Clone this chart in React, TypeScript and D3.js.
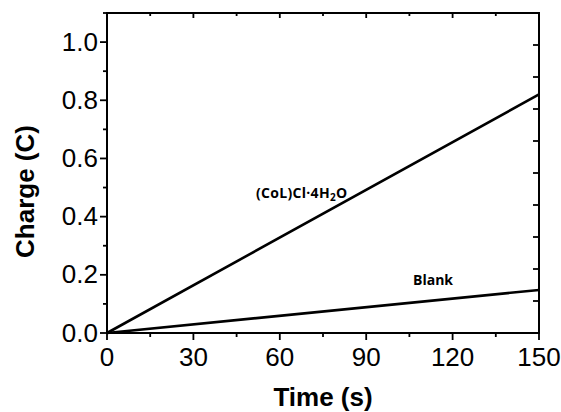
import React from "react";
import * as d3 from "d3";

const timeValues = [0, 150];
const complexCharge = [0, 0.82];
const blankCharge = [0, 0.148];
const xMajorTicks = [0, 30, 60, 90, 120, 150];
const xMinorTicks = [15, 45, 75, 105, 135];
const yMajorTicks = [0, 0.2, 0.4, 0.6, 0.8, 1.0];
const yMinorTicks = [0.1, 0.3, 0.5, 0.7, 0.9, 1.1];
const rightTicks = [0.1, 0.2, 0.3, 0.4, 0.5, 0.6, 0.7, 0.8, 0.9];
const seriesLabels = ["(CoL)Cl·4H₂O", "Blank"];

export default function App() {
  const W = 561, H = 412;
  const L = 107, R = 539, T = 13, B = 333;
  const x = d3.scaleLinear().domain([0, 150]).range([L, R]);
  const y = d3.scaleLinear().domain([0, 1.1]).range([B, T]);
  const yR = d3.scaleLinear().domain([0, 1.0]).range([B, T]);
  const line = d3.line<[number, number]>().x(d => x(d[0])).y(d => y(d[1]));
  const complexData = timeValues.map((t, i) => [t, complexCharge[i]] as [number, number]);
  const blankData = timeValues.map((t, i) => [t, blankCharge[i]] as [number, number]);
  const font = "Liberation Sans, Arial, sans-serif";
  const annFont = "Open Sans, Liberation Sans, sans-serif";
  return (
    <svg width={W} height={H} style={{ position: "absolute", left: 0, top: 0, background: "#fff" }}>
      <rect x={0} y={0} width={W} height={H} fill="#fff" />
      <path d={line(complexData) || ""} stroke="#000" strokeWidth={2.6} fill="none" />
      <path d={line(blankData) || ""} stroke="#000" strokeWidth={2.6} fill="none" />
      <rect x={L} y={T} width={R - L} height={B - T} fill="none" stroke="#000" strokeWidth={2} />
      {xMajorTicks.map(v => (
        <g key={"xm" + v}>
          <line x1={x(v)} x2={x(v)} y1={B} y2={B + 7} stroke="#000" strokeWidth={1.8} />
          <line x1={x(v)} x2={x(v)} y1={T} y2={T + 5} stroke="#000" strokeWidth={1.8} />
          <text x={x(v)} y={366} textAnchor="middle" fontFamily={font} fontSize={26} fill="#000">{v}</text>
        </g>
      ))}
      {xMinorTicks.map(v => (
        <g key={"xn" + v}>
          <line x1={x(v)} x2={x(v)} y1={B} y2={B + 4} stroke="#000" strokeWidth={1.8} />
          <line x1={x(v)} x2={x(v)} y1={T} y2={T + 3} stroke="#000" strokeWidth={1.8} />
        </g>
      ))}
      {yMajorTicks.map(v => (
        <g key={"ym" + v}>
          <line x1={L} x2={L - 7} y1={y(v)} y2={y(v)} stroke="#000" strokeWidth={1.8} />
          <text x={98} y={y(v) + 8.5} textAnchor="end" fontFamily={font} fontSize={26} fill="#000">{v.toFixed(1)}</text>
        </g>
      ))}
      {yMinorTicks.map(v => (
        <line key={"yn" + v} x1={L} x2={L - 4} y1={y(v)} y2={y(v)} stroke="#000" strokeWidth={1.8} />
      ))}
      {rightTicks.map(v => (
        <line key={"yr" + v} x1={R} x2={R - 6} y1={yR(v)} y2={yR(v)} stroke="#000" strokeWidth={1.8} />
      ))}
      <text x={323} y={405.5} textAnchor="middle" fontFamily={font} fontSize={26} fontWeight="bold" fill="#000">Time (s)</text>
      <text transform={`translate(33.5,191.5) rotate(-90)`} textAnchor="middle" fontFamily={font} fontSize={26} fontWeight="bold" fill="#000">Charge (C)</text>
      <text x={256} y={198} fontFamily={annFont} fontSize={14} fontWeight="bold" fill="#000" letterSpacing={0.3}>
        (CoL)Cl·4H<tspan fontSize={10} dy={3}>2</tspan><tspan dy={-3}>O</tspan>
      </text>
      <text x={413} y={285} fontFamily={annFont} fontSize={14} fontWeight="bold" fill="#000">{seriesLabels[1]}</text>
    </svg>
  );
}
